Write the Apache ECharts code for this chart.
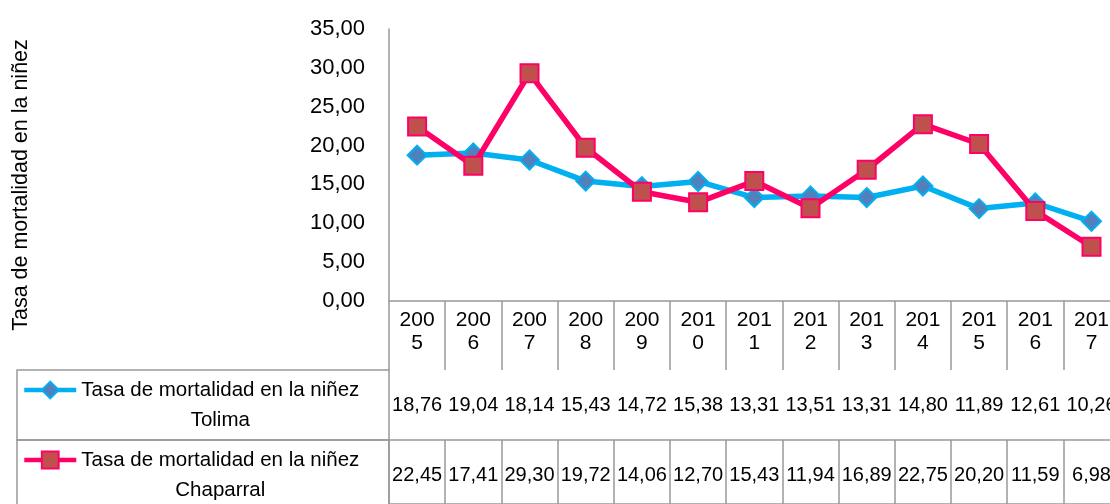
<!DOCTYPE html>
<html>
<head>
<meta charset="utf-8">
<script src="https://cdn.jsdelivr.net/npm/echarts@6/dist/echarts.min.js"></script>
<style>
  html, body { margin: 0; padding: 0; background: #fff; overflow: hidden; }
  #chart { width: 1130px; height: 504px; }
</style>
</head>
<body>
<div id="chart"></div>
<script>
const years = ['2005', '2006', '2007', '2008', '2009', '2010', '2011', '2012', '2013', '2014', '2015', '2016', '2017'];
const tolima = [18.76, 19.04, 18.14, 15.43, 14.72, 15.38, 13.31, 13.51, 13.31, 14.80, 11.89, 12.61, 10.26];
const chaparral = [22.45, 17.41, 29.30, 19.72, 14.06, 12.70, 15.43, 11.94, 16.89, 22.75, 20.20, 11.59, 6.98];
const seriesNames = ['Tasa de mortalidad en la niñez Tolima', 'Tasa de mortalidad en la niñez Chaparral'];
const axisTitle = 'Tasa de mortalidad en la niñez';

const FONT = '"Liberation Sans", Arial, sans-serif';
const GRID_COLOR = '#999999';
const plotLeft = 389;
const plotWidth = 730.6;

const fmt = (v) => v.toFixed(2).replace('.', ',');

// una fila de la tabla de datos: eje de categorias arriba con los valores como etiquetas
const rowAxis = (gridIndex, values) => ({
    type: 'category',
    gridIndex: gridIndex,
    position: 'top',
    data: years,
    axisLine: { lineStyle: { color: GRID_COLOR, width: 1.5 } },
    axisTick: { show: true, inside: true, length: 70, lineStyle: { color: GRID_COLOR, width: 1.5 } },
    axisLabel: {
        inside: true,
        margin: 35,
        interval: 0,
        verticalAlign: 'middle',
        color: '#000',
        fontFamily: FONT,
        fontSize: 20,
        formatter: (value, idx) => fmt(values[idx])
    }
});

// leyenda dentro de la celda izquierda de cada fila
const legendCell = (name, top) => ({
    orient: 'vertical',
    left: 22,
    top: top,
    padding: 0,
    itemWidth: 52,
    itemHeight: 21,
    selectedMode: false,
    data: [name],
    lineStyle: { width: 4.5 },
    formatter: (n) => {
        const i = n.lastIndexOf(' ');
        return '\n{a|' + n.slice(0, i) + '}\n{a|' + n.slice(i + 1) + '}';
    },
    textStyle: {
        fontFamily: FONT,
        fontSize: 20.5,
        color: '#000',
        lineHeight: 30,
        rich: { a: { align: 'center', fontSize: 20.5, lineHeight: 30, fontFamily: FONT, color: '#000' } }
    }
});

const option = {
    animation: false,
    textStyle: { fontFamily: FONT },
    grid: [
        { left: plotLeft, top: 29, width: plotWidth, height: 272 },
        { left: plotLeft, top: 370, width: plotWidth, height: 70 },
        { left: plotLeft, top: 440, width: plotWidth, height: 70 }
    ],
    legend: [
        legendCell(seriesNames[0], 345),
        legendCell(seriesNames[1], 415)
    ],
    graphic: [
        { type: 'rect', shape: { x: 17, y: 370, width: 372, height: 70 }, style: { fill: 'none', stroke: GRID_COLOR, lineWidth: 1.5 } },
        { type: 'rect', shape: { x: 17, y: 440, width: 372, height: 80 }, style: { fill: 'none', stroke: GRID_COLOR, lineWidth: 1.5 } }
    ],
    xAxis: [
        {
            type: 'category',
            gridIndex: 0,
            data: years,
            axisLine: { lineStyle: { color: GRID_COLOR, width: 1.5 } },
            axisTick: { show: true, length: 69, lineStyle: { color: GRID_COLOR, width: 1.5 } },
            axisLabel: {
                interval: 0,
                margin: 8,
                color: '#000',
                fontFamily: FONT,
                fontSize: 21,
                lineHeight: 23,
                formatter: (v) => v.slice(0, 3) + '\n' + v.slice(3)
            }
        },
        rowAxis(1, tolima),
        rowAxis(2, chaparral)
    ],
    yAxis: [
        {
            type: 'value',
            gridIndex: 0,
            min: 0,
            max: 35,
            interval: 5,
            name: axisTitle,
            nameLocation: 'middle',
            nameGap: 357,
            nameTextStyle: { fontFamily: FONT, fontSize: 21.5, color: '#000', padding: [0, 40, 0, 0] },
            axisLine: { show: true, lineStyle: { color: GRID_COLOR, width: 1.5 } },
            axisTick: { show: false },
            splitLine: { show: false },
            axisLabel: {
                margin: 24,
                color: '#000',
                fontFamily: FONT,
                fontSize: 22,
                formatter: (v) => fmt(v)
            }
        },
        { type: 'value', gridIndex: 1, show: false },
        { type: 'value', gridIndex: 2, show: false }
    ],
    series: [
        {
            name: seriesNames[0],
            type: 'line',
            xAxisIndex: 0,
            yAxisIndex: 0,
            data: tolima,
            symbol: 'diamond',
            symbolSize: 19,
            lineStyle: { color: '#00B0F0', width: 5.5 },
            itemStyle: { color: '#4F81BD', borderColor: '#00B0F0', borderWidth: 2 },
            z: 2
        },
        {
            name: seriesNames[1],
            type: 'line',
            xAxisIndex: 0,
            yAxisIndex: 0,
            data: chaparral,
            symbol: 'rect',
            symbolSize: 18,
            lineStyle: { color: '#FF0066', width: 5.5 },
            itemStyle: { color: '#C0504D', borderColor: '#FF0066', borderWidth: 2 },
            z: 3
        }
    ]
};

const myChart = echarts.init(document.getElementById('chart'));
myChart.setOption(option);
window.addEventListener('resize', myChart.resize);
</script>
</body>
</html>
